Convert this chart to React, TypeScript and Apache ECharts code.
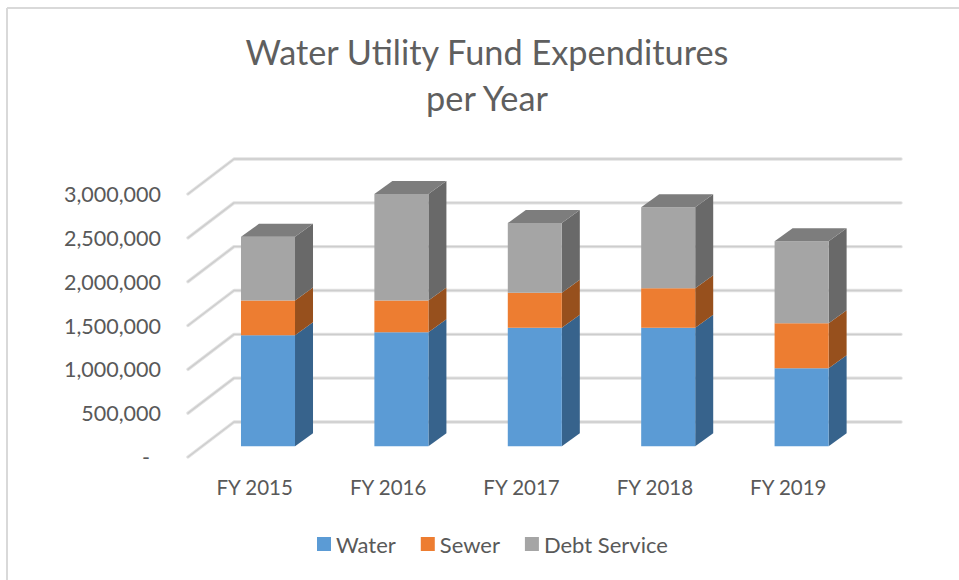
import React, { useEffect, useRef } from "react";
import * as echarts from "echarts";

const categories = ["FY 2015", "FY 2016", "FY 2017", "FY 2018", "FY 2019"];
const water = [1267000, 1301000, 1353000, 1353000, 890000];
const sewer = [396000, 362000, 399000, 451000, 514000];
const debtService = [726000, 1214000, 794000, 924000, 936000];
const yTicks = [0, 500000, 1000000, 1500000, 2000000, 2500000, 3000000];

const FONT = "Lato";
const TEXT = "#595959";
const WALL_DX = 46;
const WALL_DY = -35;
const BAR_DX = 13.3;
const BAR_DY = -10.7;
const DEPTH_DX = 18;
const DEPTH_DY = -13;
const BAR_RATIO = 0.405;

const stackRows = (own: number[], below: number[][]) =>
  own.map((v, i) => {
    const base = below.reduce((s, a) => s + a[i], 0);
    return [i, base, base + v];
  });

function barRenderer(front: string, side: string, top?: string) {
  return (_: any, api: any) => {
    const cat = api.value(0);
    const p0 = api.coord([cat, api.value(1)]);
    const p1 = api.coord([cat, api.value(2)]);
    const w = api.size([1, 0])[0] * BAR_RATIO;
    const xl = p0[0] + BAR_DX - w / 2;
    const xr = xl + w;
    const yb = p0[1] + BAR_DY;
    const yt = p1[1] + BAR_DY;
    const children: any[] = [
      {
        type: "polygon",
        shape: { points: [[xr, yb], [xr + DEPTH_DX, yb + DEPTH_DY], [xr + DEPTH_DX, yt + DEPTH_DY], [xr, yt]] },
        style: { fill: side },
      },
      {
        type: "rect",
        shape: { x: xl, y: yt, width: w, height: yb - yt },
        style: { fill: front },
      },
    ];
    if (top) {
      children.push({
        type: "polygon",
        shape: { points: [[xl, yt], [xr, yt], [xr + DEPTH_DX, yt + DEPTH_DY], [xl + DEPTH_DX, yt + DEPTH_DY]] },
        style: { fill: top },
      });
    }
    return { type: "group", children };
  };
}

function gridRenderer(_: any, api: any) {
  const p = api.coord([0, api.value(0)]);
  const band = api.size([1, 0])[0];
  const left = p[0] - band / 2;
  const right = left + band * categories.length;
  const pts = [
    [left, p[1]],
    [left + WALL_DX, p[1] + WALL_DY],
    [right + WALL_DX, p[1] + WALL_DY],
  ];
  return {
    type: "group",
    children: [
      { type: "polyline", shape: { points: pts }, style: { fill: "none", stroke: "#e2e2e2", lineWidth: 3.4, lineCap: "round", lineJoin: "round" } },
      { type: "polyline", shape: { points: pts }, style: { fill: "none", stroke: "#cdcdcd", lineWidth: 1.4, lineCap: "round", lineJoin: "round" } },
    ],
  };
}

export default function App() {
  const ref = useRef<HTMLDivElement>(null);
  useEffect(() => {
    document.body.style.margin = "0";
    const chart = echarts.init(ref.current!, undefined, { renderer: "svg" });
    chart.setOption({
      animation: false,
      backgroundColor: "#ffffff",
      textStyle: { fontFamily: FONT },
      graphic: [
        { type: "line", shape: { x1: 7, y1: 8, x2: 959, y2: 8 }, style: { stroke: "#d9d9d9", lineWidth: 2 } },
        { type: "line", shape: { x1: 7, y1: 8, x2: 7, y2: 580 }, style: { stroke: "#d9d9d9", lineWidth: 2 } },
      ],
      title: {
        text: "Water Utility Fund Expenditures\nper Year",
        left: 482,
        top: 23,
        textAlign: "center",
        textStyle: { fontFamily: FONT, fontSize: 34.3, fontWeight: "normal", color: "#5f5f5f", lineHeight: 46 },
      },
      legend: {
        left: 312,
        top: 528,
        itemWidth: 14,
        itemHeight: 14,
        itemGap: 25,
        icon: "rect",
        textStyle: { fontFamily: FONT, fontSize: 22, color: TEXT },
        data: ["Water", "Sewer", "Debt Service"],
      },
      grid: { left: 188, width: 667, top: 194, height: 263 },
      xAxis: {
        type: "category",
        data: categories,
        axisLine: { show: false },
        axisTick: { show: false },
        axisLabel: { fontFamily: FONT, fontSize: 20.5, color: TEXT, margin: 19 },
      },
      yAxis: {
        type: "value",
        min: 0,
        max: 3000000,
        interval: 500000,
        axisLine: { show: false },
        axisTick: { show: false },
        splitLine: { show: false },
        axisLabel: {
          fontFamily: FONT,
          fontSize: 21.5,
          color: TEXT,
          margin: 27,
          formatter: (v: number) => (v === 0 ? "-\u00A0\u00A0" : v.toLocaleString("en-US")),
        },
      },
      series: [
        { type: "custom", name: "gridlines", silent: true, data: yTicks.map((v) => [v]), encode: { y: 0 }, renderItem: gridRenderer, z: 1 },
        { type: "custom", name: "Water", data: stackRows(water, []), encode: { x: 0, y: [1, 2] }, itemStyle: { color: "#5b9bd5" }, renderItem: barRenderer("#5b9bd5", "#37638c"), z: 2 },
        { type: "custom", name: "Sewer", data: stackRows(sewer, [water]), encode: { x: 0, y: [1, 2] }, itemStyle: { color: "#ed7d31" }, renderItem: barRenderer("#ed7d31", "#97501d"), z: 3 },
        { type: "custom", name: "Debt Service", data: stackRows(debtService, [water, sewer]), encode: { x: 0, y: [1, 2] }, itemStyle: { color: "#a5a5a5" }, renderItem: barRenderer("#a5a5a5", "#696969", "#7d7d7d"), z: 4 },
      ],
    });
    return () => chart.dispose();
  }, []);
  return <div ref={ref} style={{ width: 959, height: 580 }} />;
}
